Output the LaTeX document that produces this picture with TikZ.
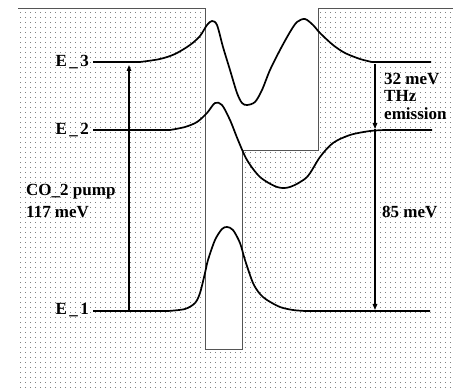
\documentclass[tikz,border=0pt]{standalone}
\usepackage{fontspec}
\setmainfont{Liberation Serif}
\usetikzlibrary{arrows.meta}
\definecolor{cWall}{HTML}{555555}
\definecolor{cDot}{HTML}{808080}

\begin{document}
\begin{tikzpicture}[
  x=1pt, y=-1pt,
  wave/.style={line width=1.7pt, black, line join=round},
  wall/.style={line width=0.9pt, cWall},
  arr/.style={-{Triangle[length=6pt, width=4.5pt]}, line width=1.4pt},
  lab/.style={font=\fontsize{17}{17.5}\selectfont\bfseries, inner sep=0pt},
  lev/.style={lab, font=\fontsize{17}{18}\selectfont\bfseries\addfontfeature{LetterSpace=14}, anchor=base east},
]
\useasboundingbox (0,0) rectangle (453,390);

% ── dotted barrier material ───────────────────────────────────────────────
\foreach \yy in {12,17,...,387}
  \foreach \xx in {20,25,...,450}
    \fill[cDot] (\xx,\yy) rectangle ++(1,1);

% ── well (white) and its walls ────────────────────────────────────────────
\fill[white] (205,8) -- (318,8) -- (318,150) -- (242,150) -- (242,349) -- (205,349) -- cycle;
\draw[wall] (18,8) -- (205,8) -- (205,349) -- (242,349) -- (242,150) -- (318,150) -- (318,8) -- (453,8);

% ── subband wave functions ────────────────────────────────────────────────
\draw[wave] (93,62) -- (140,62) plot[smooth] coordinates {(140,62) (160,59) (175,54) (190,45) (200,36) (207,25) (212,21) (217,25) (223,47) (230,70) (237,93) (242,103) (247,105) (255,102) (262,90) (270,70) (280,50) (290,32) (297,22) (305,19) (313,25) (320,33) (333,45) (345,53) (360,59) (372,62)} -- (431,62);
\draw[wave] (93,130) -- (170,130) plot[smooth] coordinates {(170,130) (185,127) (197,122) (207,113) (215,103) (222,105) (230,120) (238,140) (247,160) (260,177) (277,187) (290,187) (307,177) (320,157) (333,143) (350,135) (370,131) (385,130)} -- (432,130);
\draw[wave] (93,311) -- (168,311) plot[smooth] coordinates {(168,311) (185,309) (195,303) (200,293) (205,273) (208,260) (215,240) (222,229) (227,227) (233,230) (240,243) (245,260) (253,283) (260,294) (267,300) (280,307) (293,310) (305,311)} -- (430,311);

% ── level labels ──────────────────────────────────────────────────────────
\node[lev] (lE3) at (89,67) {E\_3};
\node[lev] (lE2) at (89,135) {E\_2};
\node[lev] (lE1) at (89,315) {E\_1};

% ── transitions ───────────────────────────────────────────────────────────
\coordinate (pumpLo) at (129,311);
\coordinate (pumpHi) at (129,65);
\coordinate (emHi) at (375,64);
\coordinate (emMid) at (375,129);
\coordinate (emLo) at (375,310);
\draw[arr] (pumpLo) -- (pumpHi);
\draw[arr] (emHi) -- (emMid);
\draw[arr] (emMid) -- (emLo);

\node[lab, anchor=base west] (pump) at (26,196) {CO\_2 pump};
\node[lab, anchor=base west] (pumpE) at (26,218) {117 meV};
\node[lab, anchor=north west, align=left] (thz) at (384,73) {32 meV\\THz\\emission};
\node[lab, anchor=base west] (relax) at (382,218) {85 meV};
\end{tikzpicture}
\end{document}
